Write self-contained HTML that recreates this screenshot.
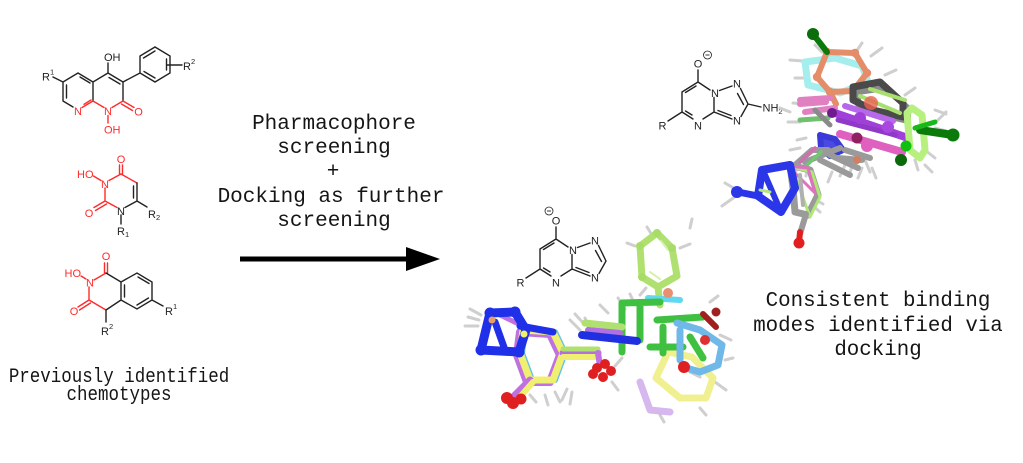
<!DOCTYPE html>
<html><head><meta charset="utf-8">
<style>
html,body{margin:0;padding:0;background:#fff;}
svg{display:block;}
.t{font-family:"Liberation Mono","DejaVu Sans Mono",monospace;fill:#151515;}
.l{font-family:"Liberation Sans",Arial,sans-serif;font-size:11px;}
.k{stroke:#222;stroke-width:1.4;fill:none;stroke-linecap:round;}
.r{stroke:#ff2a2a;stroke-width:1.4;fill:none;stroke-linecap:round;}
.s{fill:none;stroke-linecap:round;stroke-linejoin:round;}
.h{fill:none;stroke:#cfcfcf;stroke-width:3;stroke-linecap:round;}
</style></head><body>
<svg width="1023" height="463" viewBox="0 0 1023 463" xmlns="http://www.w3.org/2000/svg">
<rect width="1023" height="463" fill="#fff"/>

<!-- ============ Structure 1 ============ -->
<g>
<path class="k" d="M53,77 L63,82 M63,82 L78,73 M78,73 L93,82 M80,77 L90,83 M63,82 L63,101 M66.5,85 L66.5,98 M63,101 L73,107 M93,82 L93,101 M93,82 L108,73 M108,73 L123,82 M109,77.5 L120,84 M123,82 L123,101 M108,73 L108,63 M123,82 L140,73 M140,73 L140,56 L155,47 L170,56 L170,73 L155,82 Z M143.5,58 L155,51 M166.5,59 L166.5,70 M155,78 L144,71.5 M167,65 L182,65"/>
<path class="r" d="M82,107.5 L93,101 M84,104.3 L91,100 M93,101 L104,107.5 M112,107.5 L123,101 M123,101 L134,107.5 M121.5,104 L132.5,110.5 M108,115.5 L108,123"/>
<text class="l" x="104" y="61" fill="#222">OH</text>
<text class="l" x="78" y="115" text-anchor="middle" fill="#ff2a2a">N</text>
<text class="l" x="108" y="115" text-anchor="middle" fill="#ff2a2a">N</text>
<text class="l" x="104" y="133.5" fill="#ff2a2a">OH</text>
<text class="l" x="138.5" y="115.5" text-anchor="middle" fill="#ff2a2a">O</text>
<text class="l" x="42" y="80.5" fill="#222">R<tspan font-size="7.5" dy="-6">1</tspan></text>
<text class="l" x="183" y="70" fill="#222">R<tspan font-size="7.5" dy="-6">2</tspan></text>
</g>

<!-- ============ Structure 2 ============ -->
<g>
<path class="r" d="M93.5,176 L101,180.5 M109,180.5 L121,174 M119.5,174 L119.5,165 M122.5,174 L122.5,165 M105,188 L105,201 M105,201 L94,207.5 M106.5,204 L95.5,210.5 M117,207.5 L105,201 M121,174 L137,183"/>
<path class="k" d="M137,183 L137,201 M133.5,186 L133.5,198 M137,201 L125,207.5 M137,201 L147,207 M121,215 L121,224"/>
<text class="l" x="121" y="163" text-anchor="middle" fill="#ff2a2a">O</text>
<text class="l" x="93.5" y="178" text-anchor="end" fill="#ff2a2a">HO</text>
<text class="l" x="105" y="188" text-anchor="middle" fill="#ff2a2a">N</text>
<text class="l" x="121" y="215" text-anchor="middle" fill="#222">N</text>
<text class="l" x="89" y="217" text-anchor="middle" fill="#ff2a2a">O</text>
<text class="l" x="148" y="218" fill="#222">R<tspan font-size="7.5" dy="2">2</tspan></text>
<text class="l" x="117" y="235" fill="#222">R<tspan font-size="7.5" dy="2">1</tspan></text>
</g>

<!-- ============ Structure 3 ============ -->
<g>
<path class="r" d="M104.5,273 L104.5,263 M107.5,273 L107.5,263 M81,276 L86,279 M106,273 L94,280 M89,287 L89,300 M89,300 L78,307 M90.5,303 L79.5,310 M89,300 L106,310"/>
<path class="k" d="M106,273 L121,282 M121,282 L121,300 M121,300 L106,310 M106,310 L106,322 M121,282 L137,273 L152,282 L152,300 L137,309 L121,300 M138,277 L149,283.5 M148.5,298 L137,305 M124.5,285 L124.5,297 M152,300 L163,306"/>
<text class="l" x="106" y="260" text-anchor="middle" fill="#ff2a2a">O</text>
<text class="l" x="81" y="277" text-anchor="end" fill="#ff2a2a">HO</text>
<text class="l" x="90" y="286.5" text-anchor="middle" fill="#ff2a2a">N</text>
<text class="l" x="74" y="315" text-anchor="middle" fill="#ff2a2a">O</text>
<text class="l" x="101" y="335" fill="#222">R<tspan font-size="7.5" dy="-6">2</tspan></text>
<text class="l" x="165" y="315" fill="#222">R<tspan font-size="7.5" dy="-6">1</tspan></text>
</g>

<!-- Left caption -->
<text class="t" transform="translate(119,382) scale(1,1.15)" x="0" y="0" font-size="17.5" text-anchor="middle">Previously identified</text>
<text class="t" transform="translate(119,400) scale(1,1.15)" x="0" y="0" font-size="17.5" text-anchor="middle">chemotypes</text>

<!-- Middle text -->
<text class="t" x="334" y="129" font-size="21" text-anchor="middle">Pharmacophore</text>
<text class="t" x="334" y="153" font-size="21" text-anchor="middle">screening</text>
<text class="t" x="333" y="177" font-size="21" text-anchor="middle">+</text>
<text class="t" x="331" y="202" font-size="21" text-anchor="middle">Docking as further</text>
<text class="t" x="334" y="226" font-size="21" text-anchor="middle">screening</text>

<!-- Arrow -->
<line x1="240" y1="259" x2="410" y2="259" stroke="#000" stroke-width="5"/>
<polygon points="406,247 440,259 406,271" fill="#000"/>

<!-- Right text -->
<text class="t" x="878" y="306" font-size="20.8" text-anchor="middle">Consistent binding</text>
<text class="t" x="878" y="331" font-size="20.8" text-anchor="middle">modes identified via</text>
<text class="t" x="878" y="355" font-size="20.8" text-anchor="middle">docking</text>

<!-- ============ Top-right small molecule ============ -->
<g>
<path class="k" d="M698,70 L698,82 M698,82 L682,92 M696,86 L685.5,92.5 M682,92 L682,112 M682,112 L693,119 M685.5,111 L692,115 M703,119 L714,112 M714,112 L714,97.5 M710,90 L698,82 M719.5,90.5 L732,86 M740.5,88.5 L748,104 M737.5,93.5 L743.5,104.5 M748,104 L741,116.5 M732,119 L714,112 M731,115.5 L718,110.5 M748,104 L761,107 M682,112 L668,121"/>
<text class="l" x="698" y="67.5" text-anchor="middle" fill="#222">O</text>
<circle cx="707.5" cy="55" r="4" fill="none" stroke="#222" stroke-width="0.8"/>
<line x1="705.5" y1="55" x2="709.5" y2="55" stroke="#222" stroke-width="0.9"/>
<text class="l" x="698" y="129.5" text-anchor="middle" fill="#222">N</text>
<text class="l" x="715" y="97" text-anchor="middle" fill="#222">N</text>
<text class="l" x="737" y="87.5" text-anchor="middle" fill="#222">N</text>
<text class="l" x="737" y="124.5" text-anchor="middle" fill="#222">N</text>
<text class="l" x="662.5" y="129.5" text-anchor="middle" fill="#222">R</text>
<text class="l" x="762.5" y="111.5" fill="#222">NH<tspan font-size="7.5" dy="2.5">2</tspan></text>
</g>

<!-- ============ Bottom-middle small molecule ============ -->
<g transform="translate(-142,157)">
<path class="k" d="M698,70 L698,82 M698,82 L682,92 M696,86 L685.5,92.5 M682,92 L682,112 M682,112 L693,119 M685.5,111 L692,115 M703,119 L714,112 M714,112 L714,97.5 M710,90 L698,82 M719.5,90.5 L732,86 M740.5,88.5 L748,104 M737.5,93.5 L743.5,104.5 M748,104 L741,116.5 M732,119 L714,112 M731,115.5 L718,110.5 M682,112 L668,121"/>
<text class="l" x="698" y="67.5" text-anchor="middle" fill="#222">O</text>
<circle cx="691" cy="54" r="4" fill="none" stroke="#222" stroke-width="0.8"/>
<line x1="689" y1="54" x2="693" y2="54" stroke="#222" stroke-width="0.9"/>
<text class="l" x="698" y="129.5" text-anchor="middle" fill="#222">N</text>
<text class="l" x="715" y="97" text-anchor="middle" fill="#222">N</text>
<text class="l" x="737" y="87.5" text-anchor="middle" fill="#222">N</text>
<text class="l" x="737" y="124.5" text-anchor="middle" fill="#222">N</text>
<text class="l" x="662.5" y="129.5" text-anchor="middle" fill="#222">R</text>
</g>

<!-- ============ Top-right 3D render ============ -->
<g>
<!-- hydrogens -->
<path class="h" d="M790,60 L803,61 M795,78 L808,78 M788,122 L800,122 M793,103 L805,104 M862,43 L856,52 M882,48 L871,56 M885,75 L896,70 M935,110 L946,114 M938,120 L946,112 M935,158 L925,150 M918,170 L915,160 M935,128 L946,131 M850,172 L855,160 M870,172 L865,160 M840,176 L845,165 M796,171 L800,160 M806,176 L808,165 M725,183 L737,190 M722,206 L736,196 M820,212 L812,205 M823,204 L814,199 M905,95 L915,88 M925,165 L932,172 M815,45 L822,52 M780,108 L790,112 M797,140 L806,138 M790,150 L800,148 M858,178 L862,168 M876,178 L872,168 M828,182 L832,172"/>
<!-- cyan ring -->
<polygon class="s" points="805,62 835,58 862,66 868,82 840,93 808,85" stroke="#a6eeee" stroke-width="7"/>
<!-- salmon ring -->
<polygon class="s" points="827,52 855,53 867,73 853,91 830,92 817,77" stroke="#e58c68" stroke-width="6"/>
<path class="s" d="M830,92 L836,104" stroke="#e58c68" stroke-width="6"/>
<g fill="#e58c68"><circle cx="827" cy="52" r="4.2"/><circle cx="855" cy="53" r="4.2"/><circle cx="867" cy="73" r="4.2"/><circle cx="830" cy="92" r="4.2"/><circle cx="817" cy="77" r="4.2"/><circle cx="853" cy="91" r="4"/></g>
<path class="s" d="M827,52 L813,34" stroke="#0b7a0b" stroke-width="6"/>
<circle cx="813" cy="34" r="6" fill="#0a6e0a"/>
<!-- linker stuff -->
<path class="s" d="M800,100 L830,98 M805,112 L835,108 M800,104 L826,102" stroke="#e080c0" stroke-width="6"/>
<path class="s" d="M800,120 L828,118" stroke="#70c070" stroke-width="5"/>
<path class="s" d="M815,110 L830,125" stroke="#8a8a8a" stroke-width="5"/>
<!-- gray rings -->
<polygon class="s" points="858,92 885,88 908,108 908,121 878,114 858,104" stroke="#8a8a8a" stroke-width="6"/>
<polygon class="s" points="853,87 880,82 903,103 903,117 873,110 853,100" stroke="#4a4a4a" stroke-width="7"/>
<path class="s" d="M860,96 L900,113 M870,89 L905,100" stroke="#a8e070" stroke-width="4"/>
<circle cx="871" cy="103" r="7" fill="#e86050" opacity="0.8"/>
<!-- purple -->
<path class="s" d="M832,112 L908,138" stroke="#a040d8" stroke-width="8"/>
<path class="s" d="M845,106 L893,121" stroke="#b868ea" stroke-width="6"/>
<path class="s" d="M838,120 L895,135" stroke="#9038c8" stroke-width="5"/>
<circle cx="860" cy="118" r="6" fill="#a040d8"/><circle cx="888" cy="127" r="6" fill="#a848e0"/>
<circle cx="832" cy="113" r="5" fill="#701a90"/>
<!-- pink -->
<path class="s" d="M840,134 L902,152" stroke="#e060c0" stroke-width="8"/>
<circle cx="867" cy="146" r="6" fill="#e060c0"/><circle cx="857" cy="138" r="5.5" fill="#902060"/>
<!-- light green ring -->
<path class="s" d="M907,113 L910,150 L920,158 L925,150 L922,115 L912,108 Z" stroke="#b8f080" stroke-width="7"/>
<!-- dark green -->
<path class="s" d="M920,130 L953,135" stroke="#0a7a0a" stroke-width="8"/>
<circle cx="953" cy="135" r="6.5" fill="#0a7a0a"/>
<path class="s" d="M915,128 L935,122" stroke="#18b818" stroke-width="5"/>
<circle cx="906" cy="146" r="5.5" fill="#10c010"/>
<circle cx="901" cy="160" r="6" fill="#0a6a0a"/>
<!-- blue cluster -->
<path d="M820,135 L835,139 L843,150 L830,156 L821,148 Z" fill="#4a4ae0" stroke="#3a3ad8" stroke-width="6" stroke-linejoin="round"/>
<!-- linker gray -->
<path class="s" d="M795,165 L812,150 L828,150 M820,160 L850,175 M830,155 L858,168 M805,162 L840,148 M838,158 L862,160 M845,150 L870,158" stroke="#9a9a9a" stroke-width="6"/>
<path class="s" d="M800,162 L815,148" stroke="#d070b0" stroke-width="3.5"/>
<path class="s" d="M806,166 L821,152" stroke="#70c870" stroke-width="3.5"/>
<circle cx="857" cy="160" r="4" fill="#d08060"/>
<!-- lower 6-ring -->
<polygon class="s" points="790,165 810,170 818,195 808,215 795,212 793,188" stroke="#9a9a9a" stroke-width="7"/>
<polygon class="s" points="792,167 812,172 820,197 810,217" stroke="#b0e878" stroke-width="3"/>
<polygon class="s" points="788,166 808,168 815,193" stroke="#e070c0" stroke-width="3"/>
<path class="s" d="M800,175 L803,205" stroke="#b0b0b0" stroke-width="4"/>
<!-- blue 5-ring -->
<polygon class="s" points="762,170 790,165 795,188 781,212 758,196" stroke="#2a36e8" stroke-width="8"/>
<path class="s" d="M765,175 L778,205" stroke="#2a36e8" stroke-width="6"/>
<path class="s" d="M760,190 L770,192" stroke="#b0e878" stroke-width="3"/>
<!-- O -->
<path class="s" d="M806,214 L800,234" stroke="#9a9a9a" stroke-width="6"/>
<path class="s" d="M800,232 L799,243" stroke="#e02020" stroke-width="6"/>
<circle cx="799" cy="243" r="5.5" fill="#e02020"/>
<!-- NH2 -->
<path class="s" d="M758,196 L738,192" stroke="#2a36e8" stroke-width="7"/>
<circle cx="737" cy="192" r="6" fill="#2a36e8"/>
</g>

<!-- ============ Bottom 3D render ============ -->
<g>
<path class="h" d="M468,317 L479,320 M465,326 L478,326 M470,309 L481,315 M562,400 L567,389 M570,404 L572,392 M570,320 L580,330 M575,314 L585,325 M585,318 L590,330 M618,298 L625,309 M630,294 L635,305 M600,305 L608,313 M615,366 L622,358 M690,372 L700,377 M720,335 L731,340 M715,382 L726,390 M690,228 L692,219 M680,248 L690,244 M647,227 L652,235 M635,246 L627,243 M646,288 L640,295 M725,360 L733,358 M710,302 L718,296 M700,408 L706,415 M660,415 L664,422 M530,395 L536,402 M612,382 L618,390 M545,395 L548,405 M555,392 L560,402"/>
<!-- light green phenyl -->
<polygon class="s" points="657,233 672,248 677,276 658,287 642,277 640,246" stroke="#b0e070" stroke-width="7"/>
<path class="s" d="M661,241 L668,250 M650,272 L660,279" stroke="#d8f0b0" stroke-width="2"/>
<path class="s" d="M658,287 L660,305" stroke="#b0e070" stroke-width="7"/>
<g fill="#a8dc68"><circle cx="657" cy="233" r="4"/><circle cx="672" cy="248" r="4"/><circle cx="642" cy="277" r="4"/><circle cx="640" cy="246" r="4"/></g>
<path class="s" d="M648,298 L680,300" stroke="#60d8f0" stroke-width="6"/>
<circle cx="668" cy="293" r="5" fill="#e89070"/>
<!-- faded purple -->
<path class="s" d="M640,382 L650,410 L670,412" stroke="#c8a0e8" stroke-width="7" opacity="0.75"/>
<!-- yellow ring -->
<polygon class="s" points="668,352 692,357 713,378 706,398 680,398 656,378" stroke="#f0f090" stroke-width="7"/>
<!-- green -->
<path class="s" d="M622,303 L622,352 M622,303 L660,302 M657,320 L703,317 M650,347 L683,347 M663,327 L663,353 M690,337 L703,358 M640,306 L640,340" stroke="#40c040" stroke-width="7"/>
<!-- sky blue -->
<path class="s" d="M677,323 L700,330 L722,345 L718,365 L700,372 L683,367 M680,330 L680,360" stroke="#70b8e8" stroke-width="7"/>
<path class="s" d="M703,314 L716,327" stroke="#a02020" stroke-width="6"/>
<circle cx="716" cy="312" r="4.5" fill="#a02020"/>
<circle cx="684" cy="367" r="6" fill="#e02020"/>
<circle cx="705" cy="340" r="5" fill="#e03030"/>
<!-- light green / purple linker -->
<path class="s" d="M585,323 L622,327" stroke="#b0e070" stroke-width="7"/>
<path class="s" d="M588,330 L620,333" stroke="#b070e0" stroke-width="6"/>
<path class="s" d="M582,335 L637,341" stroke="#2030e0" stroke-width="8"/>
<!-- left part: ring stacks -->
<polygon class="s" points="520,332 550,334 560,355 550,382 527,382 517,355" stroke="#c070e0" stroke-width="8"/>
<polygon class="s" points="525,330 555,332 565,353 555,380 532,380 522,353" stroke="#60c0f0" stroke-width="6"/>
<polygon class="s" points="523,330 553,332 563,353 553,380 530,380 520,353" stroke="#f0f070" stroke-width="7"/>
<path class="s" d="M563,353 L598,353" stroke="#b070e0" stroke-width="7"/>
<path class="s" d="M563,357 L598,357" stroke="#f0f070" stroke-width="6"/>
<path class="s" d="M563,349 L598,349" stroke="#b0e070" stroke-width="5"/>
<path class="s" d="M598,353 L600,366" stroke="#c070e0" stroke-width="6"/>
<path class="s" d="M530,380 L515,395" stroke="#c070e0" stroke-width="7"/>
<path class="s" d="M533,382 L519,398" stroke="#f0f070" stroke-width="6"/>
<!-- blue 5-ring -->
<path class="s" d="M500,315 L527,328" stroke="#c070e0" stroke-width="5"/>
<polygon class="s" points="490,313 515,312 526,330 519,352 481,350" stroke="#2030e8" stroke-width="9"/>
<path class="s" d="M495,322 L505,350 M520,326 L553,332" stroke="#2030e8" stroke-width="7"/>
<g fill="#2030e8"><circle cx="490" cy="313" r="5.5"/><circle cx="515" cy="312" r="5.5"/><circle cx="481" cy="350" r="5.5"/><circle cx="519" cy="352" r="5.5"/></g>
<circle cx="492" cy="320" r="3.5" fill="#e8a060"/>
<circle cx="524" cy="334" r="3.5" fill="#f0f070"/>
<!-- red balls -->
<g fill="#e02020"><circle cx="507" cy="398" r="6"/><circle cx="513" cy="403" r="6"/><circle cx="521" cy="399" r="5.5"/>
<circle cx="597" cy="368" r="5"/><circle cx="605" cy="364" r="5"/><circle cx="611" cy="371" r="5"/><circle cx="603" cy="377" r="5"/><circle cx="593" cy="374" r="5"/></g>
</g>

</svg>
</body></html>
